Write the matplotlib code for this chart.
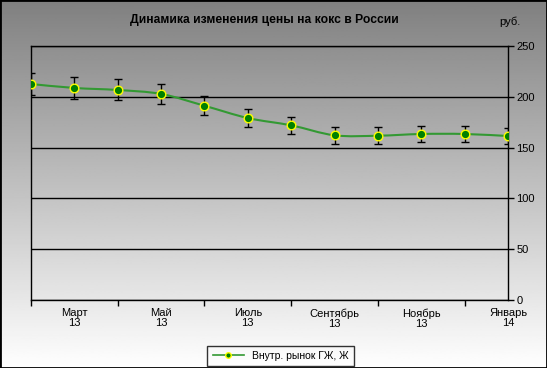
import matplotlib
matplotlib.use("Agg")
import matplotlib.pyplot as plt
import numpy as np
from matplotlib.path import Path
from matplotlib.patches import PathPatch, Rectangle
from matplotlib.ticker import FixedLocator, FixedFormatter

plt.rcParams['font.family'] = ['Liberation Sans', 'DejaVu Sans']

# data
months = ["Февраль\n13", "Март\n13", "Апрель\n13", "Май\n13", "Июнь\n13", "Июль\n13",
          "Август\n13", "Сентябрь\n13", "Октябрь\n13", "Ноябрь\n13", "Декабрь\n13", "Январь\n14"]
prices = [212.6, 208.7, 206.7, 202.8, 191.2, 179.1, 171.9, 162.1, 161.7, 163.4, 163.4, 161.4]
err_pct = 0.05
series_name = "Внутр. рынок ГЖ, Ж"

x = np.arange(len(prices))
y = np.array(prices)

fig = plt.figure(figsize=(5.47, 3.68), dpi=100)

# gradient background over the whole figure
bg = fig.add_axes([0, 0, 1, 1], zorder=-10)
grad = np.linspace(0.50, 1.0, 256).reshape(-1, 1)
bg.imshow(grad, cmap="gray", vmin=0, vmax=1, aspect="auto", extent=[0, 1, 0, 1], origin="upper")
bg.set_axis_off()

ax = fig.add_axes([31 / 547, 68 / 368, 477 / 547, 254 / 368])
ax.set_facecolor("none")

# smoothed line (catmull-rom style bezier through the data points)
verts = [(x[0], y[0])]
codes = [Path.MOVETO]
n = len(x)
for i in range(n - 1):
    p0 = np.array([x[max(i - 1, 0)], y[max(i - 1, 0)]])
    p1 = np.array([x[i], y[i]])
    p2 = np.array([x[i + 1], y[i + 1]])
    p3 = np.array([x[min(i + 2, n - 1)], y[min(i + 2, n - 1)]])
    c1 = p1 + (p2 - p0) / 6
    c2 = p2 - (p3 - p1) / 6
    verts += [tuple(c1), tuple(c2), tuple(p2)]
    codes += [Path.CURVE4] * 3
ax.add_patch(PathPatch(Path(verts, codes), facecolor="none", edgecolor="#339933", lw=1.5, zorder=3))

ax.errorbar(x, y, yerr=y * err_pct, fmt="none", ecolor="black", elinewidth=1, capsize=2.8, capthick=1, zorder=4)
ax.plot(x, y, ls="none", marker="o", ms=6.2, mfc="#008000", mec="#ffff00", mew=1, zorder=5)

ax.set_xlim(0, n - 1)
ax.set_ylim(0, 250)

# y axis on the right
ax.yaxis.tick_right()
ax.set_yticks(np.arange(0, 251, 50))
ax.tick_params(axis="y", direction="out", length=4, width=1, labelsize=8, pad=2)
ax.grid(axis="y", color="black", lw=1)

# x axis: labels on odd months, tick marks on even
ax.xaxis.set_major_locator(FixedLocator(x[1::2]))
ax.xaxis.set_major_formatter(FixedFormatter(months[1::2]))
ax.xaxis.set_minor_locator(FixedLocator(x[0::2]))
ax.tick_params(axis="x", which="major", length=0, labelsize=8, pad=6)
ax.tick_params(axis="x", which="minor", direction="out", length=4, width=1)
for lab in ax.get_xticklabels():
    lab.set_linespacing(1.0)

for s in ax.spines.values():
    s.set_color("black")
    s.set_linewidth(1)

fig.text(0.484, 0.946, "Динамика изменения цены на кокс в России", ha="center", va="center",
         fontsize=8.7, fontweight="bold")
fig.text(0.932, 0.940, "руб.", ha="center", va="center", fontsize=8)

handle, = ax.plot([], [], color="#339933", lw=1.2, marker="o", ms=4, mfc="#008000", mec="#ffff00")
leg = fig.legend([handle], [series_name], loc="center", bbox_to_anchor=(0.513, 0.033),
                 fontsize=7.5, frameon=True, fancybox=False, handlelength=3, borderpad=0.5)
leg.get_frame().set_edgecolor("black")
leg.get_frame().set_facecolor("none")
leg.get_frame().set_linewidth(1)

fig.patches.append(Rectangle((0, 0), 1, 1, transform=fig.transFigure, fill=False,
                             edgecolor="black", lw=2, zorder=20))

fig.savefig("out.png", dpi=100)
